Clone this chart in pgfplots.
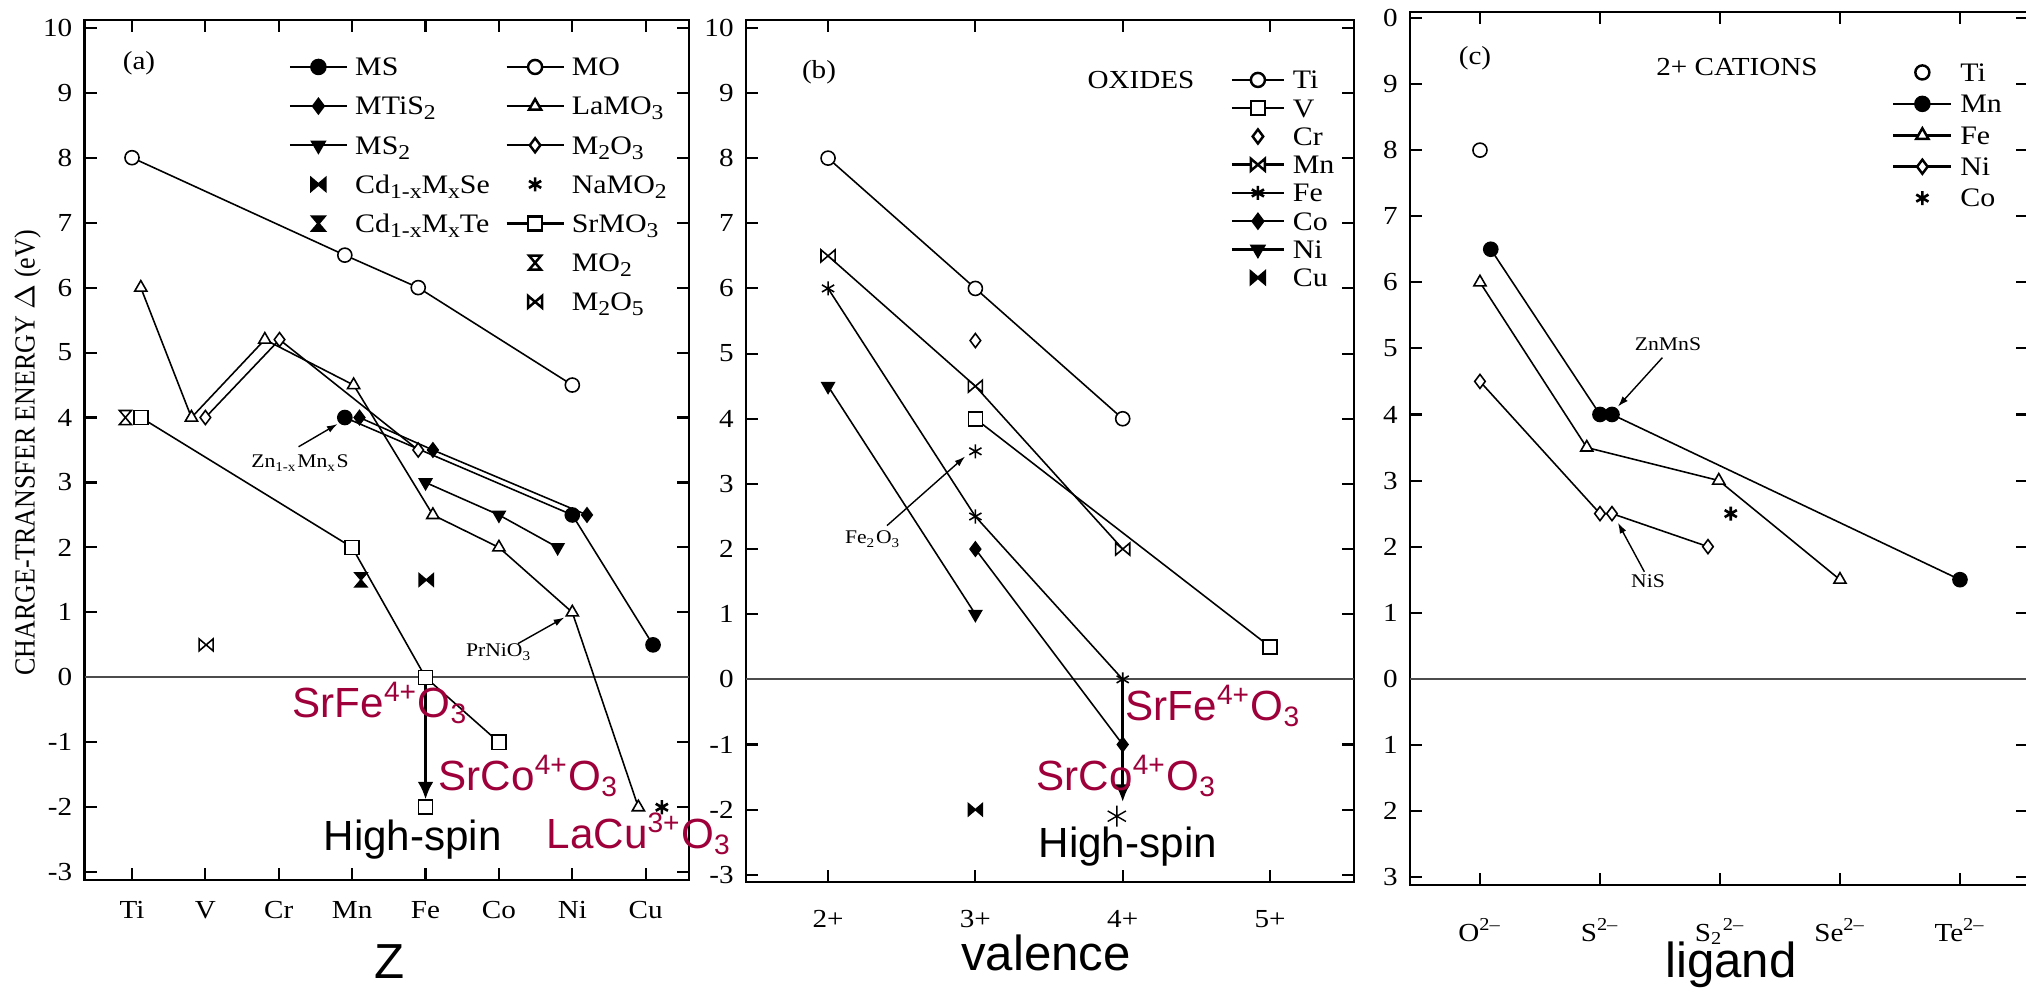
\documentclass[border=0pt]{standalone}
\usepackage{fontspec}
\setmainfont{Liberation Serif}[FakeStretch=1.12]
\newfontfamily\sansf{Liberation Sans}
\newfontfamily\ylabfont{Liberation Serif}[FakeStretch=0.89]
\usepackage{pgfplots}
\pgfplotsset{compat=1.18}
\usetikzlibrary{arrows.meta}
\definecolor{annred}{RGB}{158,0,58}

% bowtie and hourglass marks (fill=white gives the open ones)
\pgfdeclareplotmark{bowtie}{%
  \pgfpathmoveto{\pgfqpoint{-\pgfplotmarksize}{0.85\pgfplotmarksize}}%
  \pgfpathlineto{\pgfqpoint{\pgfplotmarksize}{-0.85\pgfplotmarksize}}%
  \pgfpathlineto{\pgfqpoint{\pgfplotmarksize}{0.85\pgfplotmarksize}}%
  \pgfpathlineto{\pgfqpoint{-\pgfplotmarksize}{-0.85\pgfplotmarksize}}%
  \pgfpathclose
  \pgfusepathqfillstroke}
\pgfdeclareplotmark{hourglass}{%
  \pgfpathmoveto{\pgfqpoint{-0.85\pgfplotmarksize}{\pgfplotmarksize}}%
  \pgfpathlineto{\pgfqpoint{0.85\pgfplotmarksize}{\pgfplotmarksize}}%
  \pgfpathlineto{\pgfqpoint{-0.85\pgfplotmarksize}{-\pgfplotmarksize}}%
  \pgfpathlineto{\pgfqpoint{0.85\pgfplotmarksize}{-\pgfplotmarksize}}%
  \pgfpathclose
  \pgfusepathqfillstroke}

\newcommand\redfont{\sansf\fontsize{12}{14}\selectfont}
\newcommand\axfont{\sansf\fontsize{14}{16}\selectfont}
\newcommand\tinyfont{\fontsize{5.5}{6}\selectfont}
\newcommand\panfont{\fontsize{7.4}{8}\selectfont}
% larger subscripts for the legend of (a)
\newcommand\lsub[1]{\raisebox{-0.4ex}{\fontsize{6}{6}\selectfont #1}}

\pgfplotsset{
  panel/.style={
    scale only axis, anchor=south west, clip=false,
    axis line style={line width=0.8pt},
    tick align=inside, xtick pos=both, ytick pos=both,
    xticklabel pos=lower, yticklabel pos=left,
    major tick length=0.12cm,
    every tick/.style={black, line width=0.6pt},
    ytick={-3,...,10},
    yticklabels={-3,-2,-1,0,1,2,3,4,5,6,7,8,9,10},
    tick label style={font=\fontsize{7.4}{8}\selectfont},
    extra y ticks={0}, extra y tick labels={},
    extra y tick style={grid=major, major tick length=0pt,
      major grid style={black!70, line width=0.6pt}},
    legend cell align=left,
    legend style={draw=none, fill=none, inner sep=0pt,
      font=\fontsize{7.6}{8}\selectfont, row sep=-0.5pt, column sep=1.2pt,
      nodes={inner sep=1pt, text height=1.6ex, text depth=0.5ex}},
    legend image post style={line width=0.7pt},
    every axis plot/.append style={black, line width=0.45pt, mark size=2pt},
  },
  open/.style={mark options={fill=white, solid}},
  rot/.style={mark options={rotate=180, solid}},
  bold/.style={mark options={line width=0.75pt, solid}},
}

\begin{document}
\begin{tikzpicture}
\useasboundingbox (0,0) rectangle (20.26,9.92);

% ---------------- (a) ----------------
\begin{axis}[panel,
  at={(0.846cm,1.12cm)}, width=6.044cm, height=8.60cm,
  xmin=-0.646, xmax=7.59, ymin=-3.12, ymax=10.12,
  xtick={0,...,7}, xticklabels={Ti,V,Cr,Mn,Fe,Co,Ni,Cu},
  xticklabel style={yshift=-2.5pt},
  legend columns=2,
  legend style={at={(0.3365,0.970)}, anchor=north west, column sep=1pt,
    /tikz/every even column/.append style={column sep=3.4pt}},
  legend image code/.code={\draw[mark repeat=2,mark phase=2,#1] plot coordinates {(0cm,0cm)(0.285cm,0cm)(0.57cm,0cm)};},
]
\addlegendimage{black, mark=*}\addlegendentry{MS}
\addlegendimage{black, mark=*, open}\addlegendentry{MO}
\addlegendimage{black, mark=diamond*}\addlegendentry{MTiS\lsub{2}}
\addlegendimage{black, mark=triangle*, open}\addlegendentry{LaMO\lsub{3}}
\addlegendimage{black, mark=triangle*, rot}\addlegendentry{MS\lsub{2}}
\addlegendimage{black, mark=diamond*, open}\addlegendentry{M\lsub{2}O\lsub{3}}
\addlegendimage{black, only marks, mark=bowtie}\addlegendentry{Cd\lsub{1-x}M\lsub{x}Se}
\addlegendimage{black, only marks, mark=asterisk, bold}\addlegendentry{NaMO\lsub{2}}
\addlegendimage{black, only marks, mark=hourglass}\addlegendentry{Cd\lsub{1-x}M\lsub{x}Te}
\addlegendimage{black, mark=square*, open}\addlegendentry{SrMO\lsub{3}}
\addlegendimage{empty legend}\addlegendentry{}
\addlegendimage{black, only marks, mark=hourglass, open}\addlegendentry{MO\lsub{2}}
\addlegendimage{empty legend}\addlegendentry{}
\addlegendimage{black, only marks, mark=bowtie, open}\addlegendentry{M\lsub{2}O\lsub{5}}

% MO
\addplot[mark=*, open, forget plot] coordinates {(0,8.0) (2.9,6.5) (3.9,6.0) (6.0,4.5)};
% LaMO3
\addplot[mark=triangle*, open, forget plot] coordinates {(0.12,6.0) (0.81,4.0) (1.81,5.2) (3.02,4.5) (4.1,2.5) (5.0,2.0) (6.0,1.0) (6.9,-2.0)};
% M2O3
\addplot[mark=diamond*, open, forget plot] coordinates {(1.0,4.0) (2.01,5.2) (3.9,3.5)};
% SrMO3
\addplot[mark=square*, open, forget plot] coordinates {(0.12,4.0) (3.0,2.0) (4.0,0.0) (5.0,-1.0)};
\addplot[only marks, mark=square*, open, forget plot] coordinates {(4.0,-2.0)};
% MS
\addplot[mark=*, forget plot] coordinates {(2.9,4.0) (6.0,2.5) (7.1,0.5)};
% MTiS2
\addplot[mark=diamond*, forget plot] coordinates {(3.1,4.0) (4.1,3.5) (6.2,2.5)};
% MS2
\addplot[mark=triangle*, rot, forget plot] coordinates {(4.0,3.0) (5.0,2.5) (5.8,2.0)};
% Cd1-xMxSe, Cd1-xMxTe
\addplot[only marks, mark=bowtie, forget plot] coordinates {(4.01,1.5)};
\addplot[only marks, mark=hourglass, forget plot] coordinates {(3.12,1.5)};
% NaMO2, MO2, M2O5
\addplot[only marks, mark=asterisk, bold, forget plot] coordinates {(7.22,-2.0)};
\addplot[only marks, mark=hourglass, open, forget plot] coordinates {(-0.09,4.0)};
\addplot[only marks, mark=bowtie, open, forget plot] coordinates {(1.01,0.5)};

\draw[line width=0.9pt, -{Latex[length=5pt,width=4.5pt]}] (axis cs:4,-0.1) -- (axis cs:4,-1.88);
\draw[line width=0.4pt, -{Latex[length=3pt,width=2pt]}] (axis cs:2.27,3.55) -- (axis cs:2.8,3.9);
\draw[line width=0.4pt, -{Latex[length=3pt,width=2pt]}] (axis cs:5.26,0.52) -- (axis cs:5.89,0.92);
\end{axis}

% ---------------- (b) ----------------
\begin{axis}[panel,
  at={(7.46cm,1.10cm)}, width=6.08cm, height=8.62cm,
  xmin=-0.557, xmax=3.57, ymin=-3.11, ymax=10.12,
  xtick={0,...,3}, xticklabels={2+,3+,4+,5+},
  xticklabel style={yshift=-4.5pt},
  legend style={at={(0.796,0.955)}, anchor=north west, row sep=-3.6pt},
  legend image code/.code={\draw[mark repeat=2,mark phase=2,#1] plot coordinates {(0cm,0cm)(0.26cm,0cm)(0.52cm,0cm)};},
]
\addlegendimage{black, mark=*, open}\addlegendentry{Ti}
\addlegendimage{black, mark=square*, open}\addlegendentry{V}
\addlegendimage{black, only marks, mark=diamond*, open}\addlegendentry{Cr}
\addlegendimage{black, mark=bowtie, open}\addlegendentry{Mn}
\addlegendimage{black, mark=asterisk, bold}\addlegendentry{Fe}
\addlegendimage{black, mark=diamond*}\addlegendentry{Co}
\addlegendimage{black, mark=triangle*, rot}\addlegendentry{Ni}
\addlegendimage{black, only marks, mark=bowtie}\addlegendentry{Cu}

\addplot[mark=*, open, forget plot] coordinates {(0,8.0) (1,6.0) (2,4.0)};
\addplot[mark=square*, open, forget plot] coordinates {(1,4.0) (3,0.5)};
\addplot[only marks, mark=diamond*, open, forget plot] coordinates {(1,5.2)};
\addplot[mark=bowtie, open, forget plot] coordinates {(0,6.5) (1,4.5) (2,2.0)};
\addplot[mark=asterisk, forget plot] coordinates {(0,6.0) (1,2.5) (2,0.0)};
\addplot[only marks, mark=asterisk, forget plot] coordinates {(1,3.5)};
\addplot[mark=diamond*, forget plot] coordinates {(1,2.0) (2,-1.0)};
\addplot[mark=triangle*, rot, forget plot] coordinates {(0,4.5) (1,1.0)};
\addplot[only marks, mark=bowtie, forget plot] coordinates {(1,-2.0)};
\addplot[only marks, mark=asterisk, mark size=3pt, line width=0.4pt, forget plot] coordinates {(1.96,-2.1)};

\draw[line width=0.9pt, -{Latex[length=5pt,width=4.5pt]}] (axis cs:2,0) -- (axis cs:2,-1.88);
\draw[line width=0.4pt, -{Latex[length=3pt,width=2pt]}] (axis cs:0.40,2.36) -- (axis cs:0.93,3.42);
\end{axis}

% ---------------- (c) ----------------
\begin{axis}[panel,
  at={(14.10cm,1.07cm)}, width=6.18cm, height=8.73cm,
  xmin=-0.583, xmax=4.567, ymin=-3.12, ymax=10.09,
  xtick={0,...,4},
  xticklabels={O\textsuperscript{2\textendash}, S\textsuperscript{2\textendash}, S\textsubscript{2}\textsuperscript{2\textendash}, Se\textsuperscript{2\textendash}, Te\textsuperscript{2\textendash}},
  xticklabel style={yshift=-6pt},
  yticklabels={3,2,1,0,1,2,3,4,5,6,7,8,9,0},
  legend style={at={(0.779,0.955)}, anchor=north west, row sep=-2.7pt},
  legend image code/.code={\draw[mark repeat=2,mark phase=2,#1] plot coordinates {(0cm,0cm)(0.29cm,0cm)(0.58cm,0cm)};},
]
\addlegendimage{black, only marks, mark=*, open}\addlegendentry{Ti}
\addlegendimage{black, mark=*}\addlegendentry{Mn}
\addlegendimage{black, mark=triangle*, open}\addlegendentry{Fe}
\addlegendimage{black, mark=diamond*, open}\addlegendentry{Ni}
\addlegendimage{black, only marks, mark=asterisk, bold}\addlegendentry{Co}

\addplot[only marks, mark=*, open, forget plot] coordinates {(0,8.0)};
\addplot[mark=*, forget plot] coordinates {(0.09,6.5) (1.0,4.0) (1.1,4.0) (4.0,1.5)};
\addplot[mark=triangle*, open, forget plot] coordinates {(0,6.0) (0.89,3.5) (1.99,3.0) (3.0,1.5)};
\addplot[mark=diamond*, open, forget plot] coordinates {(0,4.5) (1.0,2.5) (1.1,2.5) (1.9,2.0)};
\addplot[only marks, mark=asterisk, bold, forget plot] coordinates {(2.09,2.5)};

\draw[line width=0.4pt, -{Latex[length=3pt,width=2pt]}] (axis cs:1.52,4.86) -- (axis cs:1.15,4.12);
\draw[line width=0.4pt, -{Latex[length=3pt,width=2pt]}] (axis cs:1.37,1.62) -- (axis cs:1.15,2.36);
\end{axis}

% ---------------- texts ----------------
\node[rotate=90, font=\ylabfont\fontsize{8.3}{10}\selectfont] at (0.275,5.39) {CHARGE-TRANSFER ENERGY $\Delta$ (eV)};

\node[font=\panfont] at (1.39,9.29) {(a)};
\node[font=\panfont] at (8.19,9.20) {(b)};
\node[font=\panfont] at (11.41,9.12) {OXIDES};
\node[font=\panfont] at (14.75,9.34) {(c)};
\node[font=\panfont] at (17.37,9.25) {2+ CATIONS};

\node[font=\tinyfont] at (3.00,5.29) {Zn\textsubscript{1-x}Mn\textsubscript{x}S};
\node[font=\tinyfont] at (4.99,3.40) {PrNiO\textsubscript{3}};
\node[font=\tinyfont] at (8.73,4.53) {Fe\textsubscript{2}O\textsubscript{3}};
\node[font=\tinyfont] at (16.68,6.48) {ZnMnS};
\node[font=\tinyfont] at (16.48,4.11) {NiS};

\node[anchor=base west, inner sep=0, font=\redfont, text=annred] at (2.92,2.75) {SrFe\textsuperscript{4+}O\textsubscript{3}};
\node[anchor=base west, inner sep=0, font=\redfont, text=annred] at (4.38,2.02) {SrCo\textsuperscript{4+}O\textsubscript{3}};
\node[anchor=base west, inner sep=0, font=\redfont] at (3.23,1.42) {High-spin};
\node[anchor=base west, inner sep=0, font=\redfont, text=annred] at (5.46,1.44) {LaCu\textsuperscript{3+}O\textsubscript{3}};
\node[anchor=base west, inner sep=0, font=\redfont, text=annred] at (11.25,2.72) {SrFe\textsuperscript{4+}O\textsubscript{3}};
\node[anchor=base west, inner sep=0, font=\redfont, text=annred] at (10.36,2.02) {SrCo\textsuperscript{4+}O\textsubscript{3}};
\node[anchor=base west, inner sep=0, font=\redfont] at (10.38,1.35) {High-spin};

\node[anchor=base, font=\axfont] at (3.90,0.14) {Z};
\node[anchor=base, font=\axfont] at (10.46,0.22) {valence};
\node[anchor=base, font=\axfont] at (17.31,0.15) {ligand};
\end{tikzpicture}
\end{document}
